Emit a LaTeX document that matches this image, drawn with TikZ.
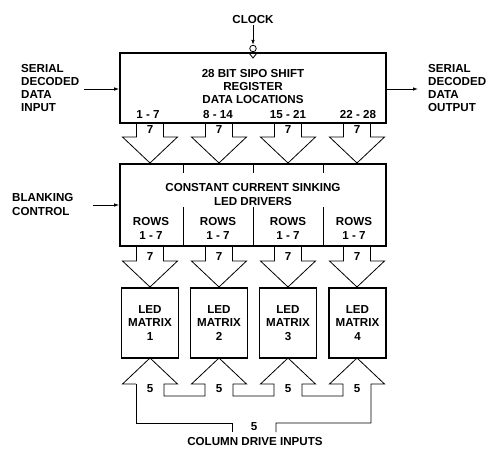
\documentclass[tikz,border=0pt]{standalone}
\usepackage{fontspec}
\setmainfont{Liberation Sans}
\usetikzlibrary{arrows.meta}
\tikzset{
  lbl/.style={font=\bfseries\fontsize{11.6}{13.3}\selectfont, align=center, inner sep=1pt},
  blk/.style={draw, line width=1.6pt},
  fat/.style={line width=0.8pt, line join=miter},
  sig/.style={line width=0.8pt, -{Latex[length=5pt,width=3.5pt]}}
}
\begin{document}
\begin{tikzpicture}[x=1pt, y=-1pt]
	\useasboundingbox (0,0) rectangle (493,455);

	% blocks
	\node[blk, minimum width=266pt, minimum height=70pt] (reg) at (253,88) {};
	\node[blk, minimum width=266pt, minimum height=82pt] (drv) at (253,205) {};
	\foreach \c/\n in {150/1, 219/2, 288/3, 357.5/4}
		\node[blk, minimum width=57pt, minimum height=70pt, lbl] (m\n) at (\c,323) {LED\\MATRIX\\\n};

	% register texts
	\node[lbl] (regtxt) at (253,86.5) {28 BIT SIPO SHIFT\\REGISTER\\DATA LOCATIONS};
	\node[lbl] (loc1) at (148,115) {1 - 7};
	\node[lbl] (loc2) at (218,115) {8 - 14};
	\node[lbl] (loc3) at (288,115) {15 - 21};
	\node[lbl] (loc4) at (358,115) {22 - 28};

	% driver texts and dividers
	\node[lbl] (drvtxt) at (253,194.5) {CONSTANT CURRENT SINKING\\LED DRIVERS};
	\foreach \c/\n in {151/1, 218/2, 288/3, 354/4}
		\node[lbl] (rows\n) at (\c,228.5) {ROWS\\1 - 7};
	\foreach \d in {183,253,323} {
		\draw[line width=0.8pt] (\d,164) -- (\d,173);
		\draw[line width=0.8pt] (\d,207) -- (\d,246);
	}

	% hollow arrows between blocks
	\foreach \c in {150,219,288,357} {
		\draw[fat] (\c-13.5,123) -- (\c-13.5,137) -- (\c-27.5,137) -- (\c,163) -- (\c+27.5,137) -- (\c+13.5,137) -- (\c+13.5,123);
		\node[lbl] at (\c,130) {7};
		\draw[fat] (\c-13.5,246) -- (\c-13.5,261) -- (\c-27.5,261) -- (\c,287) -- (\c+27.5,261) -- (\c+13.5,261) -- (\c+13.5,246);
		\node[lbl] at (\c,257) {7};
		\node[lbl] at (\c,389) {5};
	}

	% column drive bus
	\draw[fat] (136,384) -- (122.5,384) -- (150,358) -- (177.5,384) -- (164,384) -- (164,396)
		-- (205,396) -- (205,384) -- (191.5,384) -- (219,358) -- (246.5,384) -- (233,384) -- (233,396)
		-- (274,396) -- (274,384) -- (260.5,384) -- (288,358) -- (315.5,384) -- (302,384) -- (302,396)
		-- (343,396) -- (343,384) -- (329.5,384) -- (357,358) -- (384.5,384) -- (371,384) -- (371,423)
		-- (276,423) -- (276,432);
	\draw[fat] (136,384) -- (136,423) -- (232,423) -- (232,432);
	\node[lbl] (cin) at (254,427) {5};
	\node[lbl] (coltxt) at (255,442) {COLUMN DRIVE INPUTS};

	% clock
	\node[lbl] (clk) at (253,20) {CLOCK};
	\node[draw, circle, line width=0.8pt, inner sep=0pt, minimum size=6.5pt] (bub) at (253,48.5) {};
	\draw[sig] (clk.south) -- (bub.north);
	\draw[line width=0.8pt] (249,53) -- (253,58) -- (257,53);

	% serial in / out and blanking
	\node[lbl, align=left, anchor=west] (sin) at (20,88) {SERIAL\\DECODED\\DATA\\INPUT};
	\draw[sig] (84,89) -- (reg.west |- 0,89);
	\node[lbl, align=left, anchor=west] (sout) at (427,88) {SERIAL\\DECODED\\DATA\\OUTPUT};
	\draw[sig] (reg.east |- 0,89) -- (418,89);
	\node[lbl, align=left, anchor=west] (blank) at (11,204.5) {BLANKING\\CONTROL};
	\draw[sig] (93,205) -- (drv.west);
\end{tikzpicture}
\end{document}
